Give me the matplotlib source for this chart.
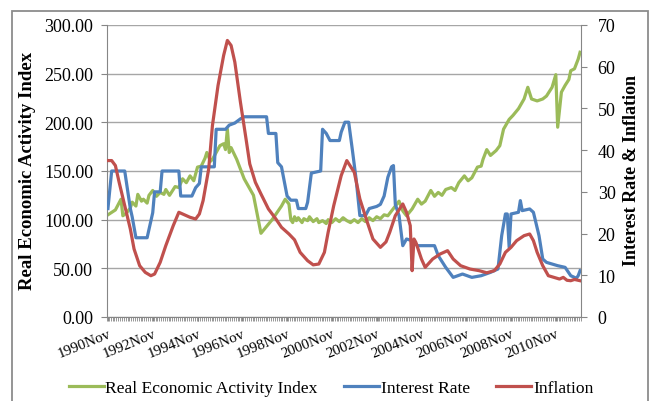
import matplotlib
matplotlib.use('Agg')
import matplotlib.pyplot as plt
from matplotlib.patches import Rectangle
from matplotlib.ticker import FormatStrFormatter, MultipleLocator

plt.rcParams['font.family'] = ['Liberation Serif', 'DejaVu Serif']

# x values are months counted from 1990Nov
labels = ['1990Nov', '1992Nov', '1994Nov', '1996Nov', '1998Nov', '2000Nov',
          '2002Nov', '2004Nov', '2006Nov', '2008Nov', '2010Nov']
n_months = 254

real_m = [0, 4, 7, 8, 10, 12, 13, 15, 16, 18, 19, 21, 22, 24, 26, 28, 30, 31, 33, 34,
          36, 38, 40, 42, 44, 46, 48, 50, 52, 53, 55, 56, 58, 60, 62, 63, 64, 65, 66,
          69, 73, 78, 82, 88, 93, 95, 97, 98, 99, 100, 101, 102, 104, 105, 107, 108,
          110, 112, 113, 115, 117, 118, 120, 122, 124, 126, 128, 130, 132, 134, 136,
          138, 140, 142, 144, 146, 148, 150, 152, 156, 158, 160, 163, 166, 168, 170,
          173, 175, 177, 179, 181, 184, 186, 188, 191, 193, 195, 198, 200, 201, 203,
          205, 208, 210, 212, 215, 217, 220, 223, 225, 227, 230, 233, 235, 238, 240,
          241, 243, 245, 247, 248, 250, 252, 253]
real_v = [105, 110, 121, 104, 107, 112, 118, 114, 126, 119, 121, 117, 125, 130, 124, 128,
          126, 131, 125, 128, 134, 133, 142, 138, 145, 140, 154, 155, 163, 169, 160, 162,
          169, 176, 178, 172, 193, 169, 174, 162, 142, 125, 86, 100, 114, 121, 116, 100,
          97, 103, 99, 102, 97, 101, 99, 103, 98, 101, 97, 99, 96, 100, 97, 101, 98,
          102, 99, 97, 100, 97, 101, 98, 102, 99, 103, 101, 105, 104, 109, 119, 109, 104,
          111, 121, 116, 119, 130, 124, 128, 125, 131, 133, 130, 138, 145, 140, 143, 154,
          155, 162, 172, 166, 171, 176, 193, 203, 207, 214, 224, 236, 224, 222, 224, 227,
          236, 249, 195, 231, 238, 244, 253, 255, 265, 272]

rate_m = [0, 2, 9, 10, 12, 13, 15, 21, 22, 24, 25, 28, 29, 38, 39, 45, 47, 49, 50, 57,
          58, 63, 65, 68, 71, 73, 85, 86, 90, 91, 93, 96, 98, 101, 102, 106, 107, 109,
          114, 115, 117, 119, 124, 125, 127, 129, 131, 133, 135, 138, 140, 144, 146, 148,
          150, 152, 153, 154, 156, 158, 160, 163, 166, 175, 177, 181, 185, 190, 195, 200,
          205, 209, 211, 213, 214, 215, 216, 220, 221, 222, 226, 228, 231, 233, 235, 241,
          245, 248, 251, 252, 253]
rate_v = [26, 35, 35, 32, 26, 24, 19, 19, 21, 25, 30, 30, 35, 35, 29, 29, 31, 32, 36, 36,
          45, 45, 46, 46.5, 47.5, 48, 48, 44, 44, 37, 36, 29, 28, 28, 26, 26, 27.5, 34.5,
          35, 45, 44, 42.3, 42.3, 44.3, 46.7, 46.7, 40, 33, 24.3, 24.3, 26, 26.5, 27, 29,
          33.5, 36, 36.3, 27, 24.3, 17.1, 18.7, 18.3, 17.1, 17.1, 14.7, 11.9, 9.5, 10.3,
          9.5, 9.9, 10.7, 11.5, 19.5, 24.7, 24.7, 16.7, 24.7, 25.1, 27.9, 25.5, 25.9,
          25.1, 19.5, 13.9, 13.1, 12.3, 11.9, 9.9, 9.3, 9.9, 11.1]

infl_m = [0, 2, 4, 6, 9, 12, 14, 17, 20, 23, 25, 28, 31, 35, 38, 40, 44, 47, 49, 51, 54,
          56, 59, 62, 64, 66, 68, 71, 74, 76, 79, 82, 86, 90, 93, 97, 100, 103, 107, 110,
          113, 116, 118, 121, 125, 128, 132, 135, 139, 142, 146, 149, 151, 154, 158, 160,
          162, 163, 164, 165, 168, 170, 174, 178, 182, 185, 189, 194, 199, 203, 207, 210,
          213, 216, 219, 223, 226, 228, 230, 233, 236, 239, 242, 244, 246, 248, 250, 253]
infl_v = [37.5, 37.5, 36.3, 32.3, 26.7, 21.1, 16.3, 12.3, 10.7, 9.9, 10.3, 13.1, 17.1,
          21.9, 25.1, 24.7, 23.9, 23.5, 24.7, 27.9, 35.5, 45.9, 55.5, 62.7, 66.3, 65.1,
          61.1, 51.5, 42.7, 36.7, 32.3, 29.5, 25.9, 23.5, 21.5, 19.9, 18.5, 15.5, 13.5,
          12.5, 12.7, 15.5, 20.3, 26.7, 33.9, 37.5, 34.7, 28.3, 22.7, 18.7, 16.7, 18.0,
          20.3, 24.3, 27.1, 25.1, 21.9, 11.1, 18.7, 17.9, 13.9, 11.9, 13.9, 15.1, 15.9,
          13.9, 12.3, 11.5, 11.1, 10.6, 11.1, 12.7, 15.5, 16.7, 18.3, 19.5, 19.9, 18.3,
          15.5, 12.3, 9.9, 9.5, 9.1, 9.5, 8.8, 8.7, 9.0, 8.7]

axis_col = '#868686'

fig = plt.figure(figsize=(6.53, 4.02), dpi=100)
ax = fig.add_axes([107/653, 1 - 318/402, 474/653, 292/402])
ax2 = ax.twinx()

l1, = ax.plot(real_m, real_v, color='#9bbb59', lw=2.3, label='Real Economic Activity Index')
l2, = ax2.plot(rate_m, rate_v, color='#4f81bd', lw=2.3, label='Interest Rate')
l3, = ax2.plot(infl_m, infl_v, color='#c0504d', lw=2.3, label='Inflation')

ax.set_xlim(-0.5, n_months - 0.5)
ax.set_ylim(0, 300)
ax2.set_ylim(0, 70)
ax.yaxis.set_major_locator(MultipleLocator(50))
ax.yaxis.set_major_formatter(FormatStrFormatter('%.2f'))
ax2.yaxis.set_major_locator(MultipleLocator(10))
ax.grid(axis='y', color='#a6a6a6', lw=1)
ax.set_axisbelow(True)

ax.set_xticks(range(0, n_months, 24))
ax.set_xticklabels(labels, rotation=22, ha='right', rotation_mode='anchor')
ax.set_xticks([m + 0.5 for m in range(-1, n_months)], minor=True)
ax.tick_params(axis='x', which='both', length=3, color=axis_col, labelsize=10.8, pad=4)
ax.tick_params(axis='y', length=4, color=axis_col, labelsize=13, pad=6)
ax2.tick_params(axis='y', length=4, color=axis_col, labelsize=13, pad=8)

for a in (ax, ax2):
    a.spines['top'].set_visible(False)
    for s in ('left', 'right', 'bottom'):
        a.spines[s].set_color(axis_col)
ax.spines['right'].set_visible(False)
ax2.spines['left'].set_visible(False)
ax2.spines['bottom'].set_visible(False)

fig.text(28/653, 1 - 171/402, 'Real Economic Activity Index', rotation=90,
         ha='center', va='center', fontsize=13.5, fontweight='bold')
fig.text(632/653, 1 - 171/402, 'Interest Rate & Inflation', rotation=90,
         ha='center', va='center', fontsize=13, fontweight='bold')

fig.legend(handles=[l1, l2, l3], loc='center', bbox_to_anchor=(331/653, 1 - 389/402),
           ncol=3, frameon=False, fontsize=12.6, handlelength=2.0, handletextpad=0.1,
           columnspacing=1.5, borderpad=0)

fig.patches.append(Rectangle((12/653, -0.1), 636/653, 1.1 - 12/402, transform=fig.transFigure,
                             fill=False, edgecolor='#8c8c8c', lw=1.3))

fig.savefig('out.png', dpi=100)
